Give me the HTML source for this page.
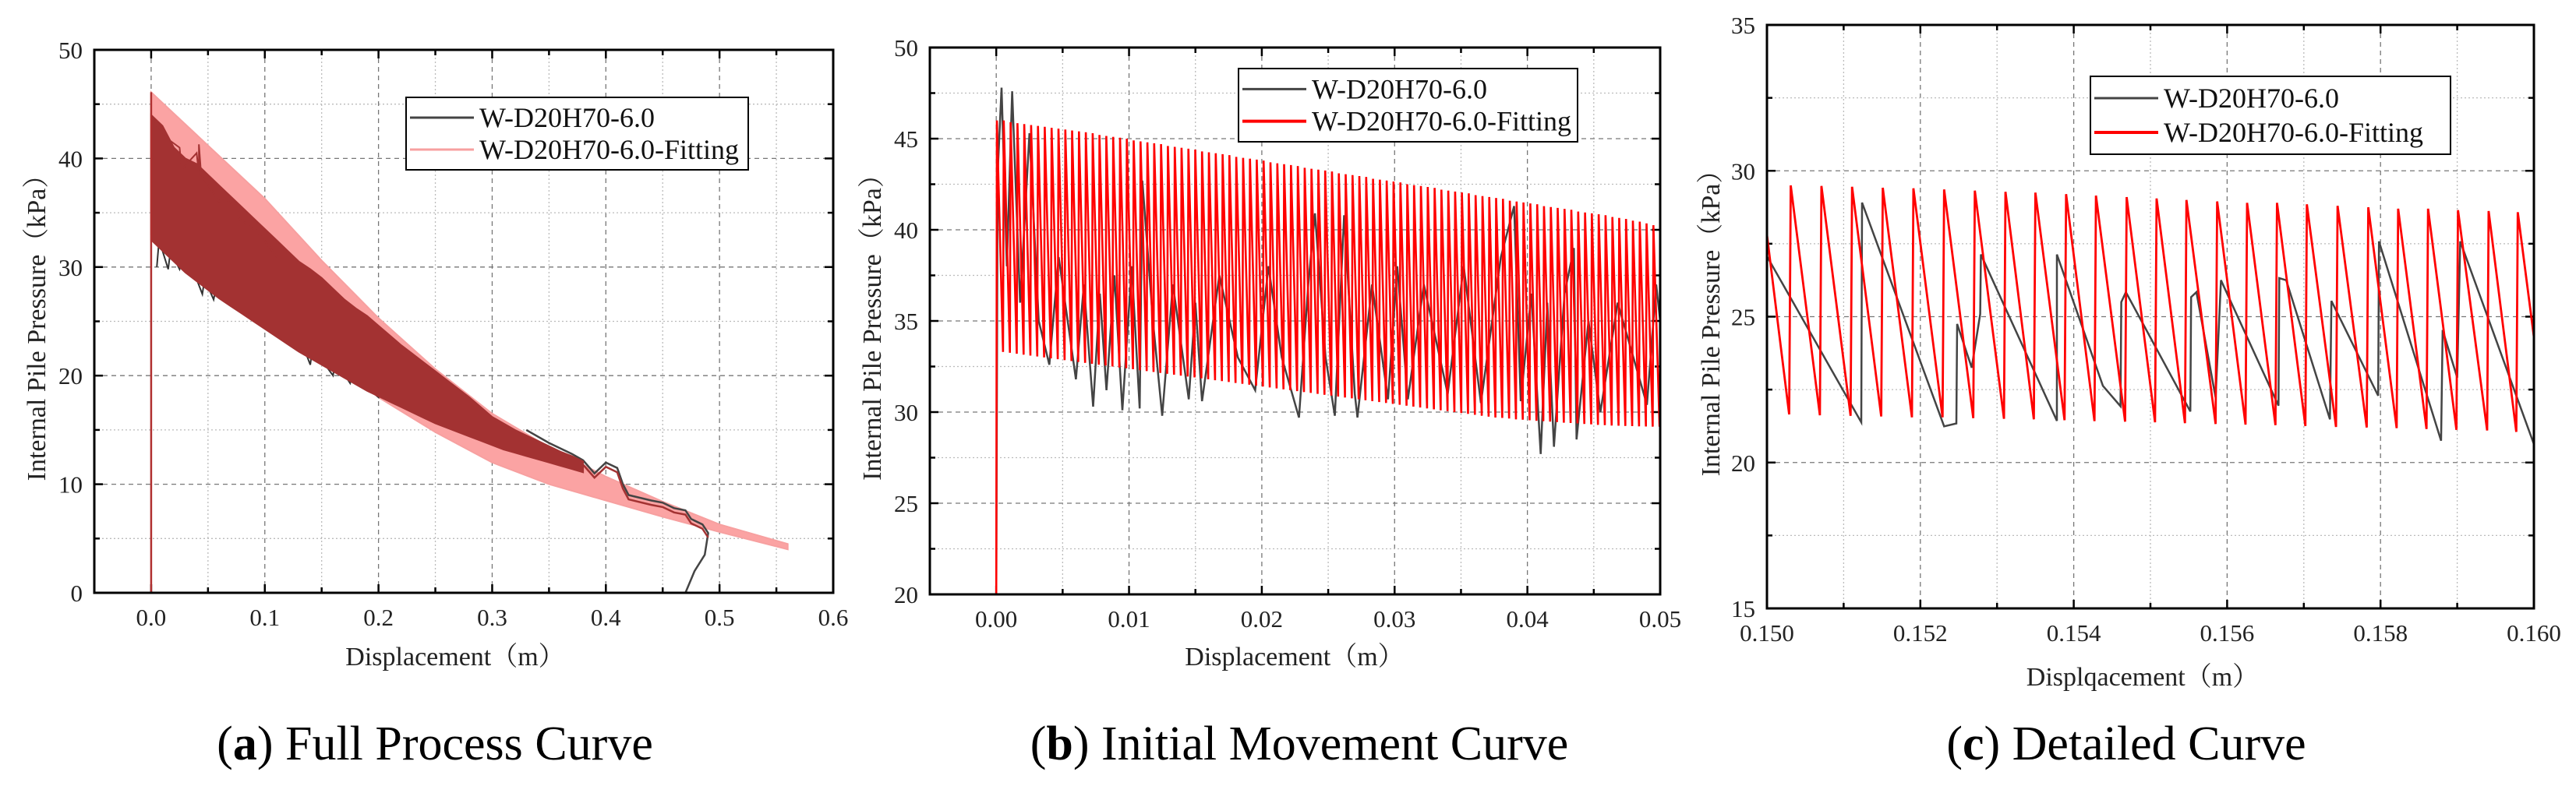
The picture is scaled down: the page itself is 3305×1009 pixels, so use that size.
<!DOCTYPE html>
<html><head><meta charset="utf-8"><style>
html,body{margin:0;padding:0;background:#fff;}
svg{display:block;font-family:"Liberation Serif","Noto Serif CJK SC",serif;}
</style></head><body>
<svg id="fig" width="3305" height="1009" viewBox="0 0 3305 1009" xmlns="http://www.w3.org/2000/svg">
<rect width="3305" height="1009" fill="#fff"/>
<text x="558" y="975" font-size="62" text-anchor="middle">(<tspan font-weight="bold">a</tspan>) Full Process Curve</text>
<text x="1667" y="975" font-size="62" text-anchor="middle">(<tspan font-weight="bold">b</tspan>) Initial Movement Curve</text>
<text x="2728" y="975" font-size="62" text-anchor="middle">(<tspan font-weight="bold">c</tspan>) Detailed Curve</text>
</svg>
<script>
// ---- Panel (a) data ----
const aFitX = [0.0, 0.05, 0.1, 0.15, 0.2, 0.25, 0.3, 0.35, 0.4, 0.45, 0.5, 0.56];
const aFitUpper = [46.1, 41.2, 36.3, 30.6, 25.3, 20.6, 16.5, 13.4, 10.7, 8.4, 6.3, 4.5];
const aFitLower = [33.0, 29.5, 26.4, 22.0, 18.0, 14.8, 12.0, 10.0, 8.5, 7.0, 5.6, 4.0];
const aMeasX = [0,0.01,0.02,0.03,0.04,0.05,0.06,0.07,0.08,0.09,0.1,0.11,0.12,0.13,0.14,0.15,0.16,0.17,0.18,0.19,0.2,0.21,0.22,0.23,0.24,0.25,0.26,0.27,0.28,0.29,0.3,0.31,0.32,0.33,0.34,0.35,0.36,0.37,0.38];
const aMeasHi = [44,43,41,40,39.5,38.5,37.5,36.5,35.5,34.5,33.5,32.5,31.5,30.5,29.8,29,28,27,26.2,25.5,24.6,23.7,22.8,22,21.2,20.4,19.6,18.8,18,17.1,16.2,15.6,15.0,14.5,14.0,13.5,13.0,12.6,12.1];
const aMeasLo = [32.5,31.5,30.5,29.5,28.7,27.9,27.1,26.4,25.7,25,24.3,23.6,22.9,22.2,21.6,21,20.4,19.8,19.2,18.6,18.1,17.6,17.1,16.6,16.1,15.6,15.2,14.8,14.4,14,13.6,13.2,12.9,12.6,12.3,12,11.7,11.4,11.1];
const aSpikeX = [0.003,0.01,0.025,0.04,0.042,0.06,0.075,0.09,0.11];
const aSpikeY = [43.5,42.5,41,40.5,41.3,36,35.5,33.5,31];
const aDipX = [0.005,0.015,0.025,0.035,0.045,0.055,0.13,0.14,0.16,0.175,0.2];
const aDipY = [30,29.8,29.8,29.6,27.5,27,22.5,21,20,19.3,18];
const aTailX = [0.33,0.35,0.37,0.38,0.39,0.40,0.41,0.415,0.42,0.44,0.45,0.46,0.47,0.475,0.485,0.49,0.487,0.478,0.47];
const aTailY = [15,13.8,12.8,12.2,11,12,11.5,10,9,8.5,8.3,7.8,7.6,6.8,6.3,5.5,3.5,2,0];
// ---- Panel (b) data ----
const bPeriod = 0.000515;
const bPeaks = [46.0,46.0,45.9,45.85,45.8,45.75,45.7,45.65,45.6,45.55,
45.5,45.45,45.4,45.35,45.3,45.2,45.15,45.1,45.05,45.0,
44.9,44.85,44.8,44.75,44.7,44.6,44.55,44.5,44.45,44.4,
44.3,44.25,44.2,44.15,44.1,44.0,43.95,43.9,43.85,43.8,
43.7,43.65,43.6,43.55,43.5,43.4,43.35,43.3,43.25,43.2,
43.1,43.05,43.0,42.95,42.9,42.8,42.75,42.7,42.65,42.6,
42.5,42.45,42.4,42.35,42.3,42.2,42.15,42.1,42.05,42.0,
41.9,41.85,41.8,41.75,41.7,41.6,41.55,41.5,41.45,41.4,
41.3,41.25,41.2,41.15,41.1,41.0,40.95,40.9,40.85,40.8,
40.7,40.65,40.6,40.5,40.45,40.35,40.25];
const bTroughs = [33.3,33.25,33.2,33.15,33.1,33.05,33.0,32.95,32.9,32.85,
32.8,32.75,32.7,32.65,32.6,32.55,32.5,32.45,32.4,32.35,
32.3,32.25,32.2,32.15,32.1,32.05,32.0,31.95,31.9,31.85,
31.8,31.75,31.7,31.65,31.6,31.55,31.5,31.45,31.4,31.35,
31.3,31.25,31.2,31.15,31.1,31.05,31.0,30.95,30.9,30.85,
30.8,30.75,30.7,30.65,30.6,30.55,30.5,30.45,30.4,30.35,
30.3,30.25,30.2,30.15,30.1,30.05,30.0,29.95,29.9,29.85,
29.8,29.75,29.7,29.68,29.65,29.6,29.58,29.55,29.52,29.5,
29.48,29.45,29.42,29.4,29.38,29.35,29.33,29.3,29.28,29.26,
29.25,29.24,29.23,29.22,29.21,29.2,29.2];
const bMeasX = [0,0.0001,0.0004,0.0008,0.0012,0.0018,0.0025,0.0032,0.004,0.0047,0.006,0.0066,0.0073,0.0078,0.0083,0.0089,0.0095,0.0102,0.0108,0.011,0.0118,0.0125,0.0133,0.0145,0.015,0.0155,0.0168,0.0182,0.0195,0.0205,0.0215,0.0228,0.0235,0.024,0.0248,0.0255,0.0262,0.027,0.0272,0.0283,0.0295,0.0302,0.031,0.0322,0.034,0.0352,0.0365,0.038,0.039,0.0395,0.0403,0.041,0.0415,0.042,0.0428,0.0435,0.0437,0.0446,0.0455,0.0468,0.049,0.0497,0.05];
const bMeasY = [20,43,47.8,38,47.6,36,45.3,35,32.6,38.5,31.8,37,30.3,36.5,31.2,37.5,30.1,38,30.2,42.7,35,29.8,37,30.7,36,30.6,37.5,33,31.2,38,33,29.7,37,40.9,33,29.8,40.8,31,29.7,37,30.7,38,30.7,37,31.0,38,30.5,38.5,41.3,30.6,36.5,27.7,36,28.1,36.5,39.0,28.5,35,30.0,36,30.4,37,35];
// ---- Panel (c) data ----
const cPeakX = [0.15031,0.15071,0.15111,0.15151,0.15191,0.15231,0.15271,0.15311,0.15350,0.15390,0.15429,0.15469,0.15508,0.15547,0.15587,0.15626,0.15665,0.15704,0.15744,0.15784,0.15823,0.15862,0.15901,0.15941,0.15979];
const cPeaks = [29.5,29.48,29.45,29.42,29.4,29.36,29.32,29.28,29.25,29.2,29.15,29.1,29.05,29.0,28.95,28.9,28.9,28.85,28.8,28.75,28.7,28.7,28.65,28.62,28.58];
const cTroughs = [21.65,21.62,21.6,21.58,21.55,21.55,21.52,21.5,21.48,21.45,21.42,21.4,21.38,21.35,21.32,21.3,21.28,21.25,21.22,21.2,21.18,21.15,21.12,21.1,21.05];
const cFitStart = 27.8, cFitEnd = 24.3;
const cMeasX = [0.15000,0.15123,0.15124,0.15231,0.15247,0.15248,0.15267,0.15278,0.15279,0.15378,0.15378,0.15438,0.15461,0.15462,0.15468,0.15552,0.15553,0.15560,0.15585,0.15592,0.15667,0.15668,0.15677,0.15734,0.15736,0.15797,0.15798,0.15879,0.15881,0.15900,0.15904,0.16000];
const cMeasY = [27.07,21.38,28.91,21.24,21.34,24.75,23.25,25.09,27.13,21.43,27.13,22.63,21.93,25.50,25.84,21.75,25.67,25.84,22.23,26.25,21.95,26.32,26.25,21.48,25.54,22.29,27.58,20.75,24.54,22.91,27.58,20.63];

const NS = "http://www.w3.org/2000/svg";
const svg = document.getElementById('fig');
function mk(tag, attrs, parent){
  const e = document.createElementNS(NS, tag);
  for (const k in attrs) e.setAttribute(k, attrs[k]);
  (parent||svg).appendChild(e);
  return e;
}
function panel(p){
  const g = mk('g', {});
  
  
  const sx = v => p.L + (v - p.x0) / (p.x1 - p.x0) * (p.R - p.L);
  const sy = v => p.B - (v - p.y0) / (p.y1 - p.y0) * (p.B - p.T);
  p.sx = sx; p.sy = sy; p.g = g;
  const grid = mk('g', {}, g);
  
  
  const eps = 1e-9;
  for (let i = 0; ; i++){
    const v = p.xMinStart + i * p.xMinor; if (v > p.x1 + eps) break;
    const x = sx(v); const isMaj = Math.abs(Math.round((v - p.xMajStart) / p.xMajor) * p.xMajor + p.xMajStart - v) < eps*10;
    if (x > p.L + 2 && x < p.R - 2) mk('line', {x1:x, y1:p.T, x2:x, y2:p.B, stroke: isMaj ? '#777' : '#bbb', 'stroke-width':1.3, 'stroke-dasharray': isMaj ? '6,5' : '2,3'}, grid);
    const tl = isMaj ? 11 : 7;
    mk('line', {x1:x, y1:p.B, x2:x, y2:p.B - tl, stroke:'#000', 'stroke-width':2.5}, g);
    mk('line', {x1:x, y1:p.T, x2:x, y2:p.T + tl, stroke:'#000', 'stroke-width':2.5}, g);
  }
  for (let i = 0; ; i++){
    const v = p.y0 + i * p.yMinor; if (v > p.y1 + eps) break;
    const y = sy(v); const isMaj = Math.abs(Math.round((v - p.y0) / p.yMajor) * p.yMajor + p.y0 - v) < eps*10;
    if (y > p.T + 2 && y < p.B - 2) mk('line', {x1:p.L, y1:y, x2:p.R, y2:y, stroke: isMaj ? '#777' : '#bbb', 'stroke-width':1.3, 'stroke-dasharray': isMaj ? '6,5' : '2,3'}, grid);
    const tl = isMaj ? 11 : 7;
    mk('line', {x1:p.L, y1:y, x2:p.L + tl, y2:y, stroke:'#000', 'stroke-width':2.5}, g);
    mk('line', {x1:p.R, y1:y, x2:p.R - tl, y2:y, stroke:'#000', 'stroke-width':2.5}, g);
  }
  p.xLabels.forEach((t, i) => {
    const v = p.xMajStart + i * p.xMajor;
    const e = mk('text', {x:sx(v), y:p.B + 42, 'font-size':31, 'text-anchor':'middle', fill:'#222'}, g);
    
    
    e.textContent = t;
  });
  p.yLabels.forEach((t, i) => {
    const v = p.y0 + i * p.yMajor;
    const e = mk('text', {x:p.L - 15, y:sy(v) + 11, 'font-size':31, 'text-anchor':'end', fill:'#222'}, g);
    
    
    e.textContent = t;
  });
  const xt = mk('text', {x:p.xtX, y:p.xtY, 'font-size':34, 'text-anchor':'middle', fill:'#222'}, g);
  
  
  xt.textContent = p.xTitle;
  const yt = mk('text', {x:0, y:0, 'font-size':34, 'text-anchor':'middle', fill:'#222', transform:`translate(${p.ytX},${(p.T+p.B)/2}) rotate(-90)`}, g);
  
  
  yt.textContent = 'Internal Pile Pressure（kPa）';
  const clip = mk('clipPath', {id:'clip-' + p.name}, g);
  mk('rect', {x:p.L, y:p.T, width:p.R - p.L, height:p.B - p.T}, clip);
  const plot = mk('g', {'clip-path':`url(#clip-${p.name})`}, g);
  
  
  p.plot = plot;
  return p;
}
function axesFrame(p){
  const f = mk('rect', {x:p.L, y:p.T, width:p.R - p.L, height:p.B - p.T, fill:'none', stroke:'#000', 'stroke-width':3}, p.g);
  
  
}
function legend(p, box, fitColor, fitWidth){
  const g = mk('g', {}, p.g);
  
  
  mk('rect', {x:box.x, y:box.y, width:box.w, height:box.h, fill:'#fff', stroke:'#000', 'stroke-width':2}, g);
  const r1 = box.y + box.h * 0.28, r2 = box.y + box.h * 0.72;
  const e1 = mk('g', {}, g);
  
  
  mk('line', {x1:box.x + 5, y1:r1, x2:box.x + 87, y2:r1, stroke:'#444', 'stroke-width':3}, e1);
  const t1 = mk('text', {x:box.x + 94, y:r1 + 12, 'font-size':36, fill:'#111'}, e1);
  t1.textContent = 'W-D20H70-6.0';
  const e2 = mk('g', {}, g);
  
  
  mk('line', {x1:box.x + 5, y1:r2, x2:box.x + 87, y2:r2, stroke:fitColor, 'stroke-width':fitWidth}, e2);
  const t2 = mk('text', {x:box.x + 94, y:r2 + 12, 'font-size':36, fill:'#111'}, e2);
  t2.textContent = 'W-D20H70-6.0-Fitting';
}
function pts(p, xs, ys){ return xs.map((x, i) => p.sx(x).toFixed(1) + ',' + p.sy(ys[i]).toFixed(1)).join(' '); }

// ---------- Panel A ----------
const A = panel({name:'panel-a-full-process', L:121, R:1069, T:64, B:761, x0:-0.05, x1:0.6, y0:0, y1:50,
  xMajor:0.1, xMajStart:0, xMinor:0.05, xMinStart:-0.05, yMajor:10, yMinor:5,
  xLabels:['0.0','0.1','0.2','0.3','0.4','0.5','0.6'], yLabels:['0','10','20','30','40','50'],
  xTitle:'Displacement（m）', xtX:584, xtY:854, ytX:58});
{
  const band = mk('polygon', {points: pts(A, aFitX, aFitUpper) + ' ' + pts(A, aFitX.slice().reverse(), aFitLower.slice().reverse()), fill:'#fba3a3', stroke:'#f7a0a0', 'stroke-width':2}, A.plot);
  
  
  const dips = mk('polyline', {points: pts(A, aDipX.flatMap(x=>[x,x+0.002]), aDipY.flatMap((y,i)=>[y, aMeasLo[Math.round(aDipX[i]*100)]+1])), fill:'none', stroke:'#333', 'stroke-width':2}, A.plot);
  
  
  const tail = mk('polyline', {points: pts(A, aTailX, aTailY), fill:'none', stroke:'#444', 'stroke-width':2.5}, A.plot);
  
  
  const tail2 = mk('polyline', {points: pts(A, aTailX.slice(3,16), aTailY.slice(3,16).map(v=>v-0.4)), fill:'none', stroke:'#a33232', 'stroke-width':2.5}, A.plot);
  
  
  const meas = mk('polygon', {points: pts(A, aMeasX, aMeasHi) + ' ' + pts(A, aMeasX.slice().reverse(), aMeasLo.slice().reverse()), fill:'#a33232', stroke:'#a33232', 'stroke-width':2}, A.plot);
  
  
  const sp = mk('polyline', {points: pts(A, aSpikeX.flatMap(x=>[x,x+0.002]), aSpikeY.flatMap((y,i)=>[y, aMeasHi[Math.round(aSpikeX[i]*100)]-1])), fill:'none', stroke:'#a33232', 'stroke-width':2}, A.plot);
  
  
  const vl = mk('line', {x1:A.sx(0), y1:A.sy(0), x2:A.sx(0), y2:A.sy(aFitUpper[0]), stroke:'#b03030', 'stroke-width':2.5}, A.plot);
  
  
  axesFrame(A);
  legend(A, {x:521, y:125, w:439, h:93}, '#f7a0a0', 3);
}

// ---------- Panel B ----------
const Bp = panel({name:'panel-b-initial-movement', L:1193, R:2130, T:61, B:763, x0:-0.005, x1:0.05, y0:20, y1:50,
  xMajor:0.01, xMajStart:0, xMinor:0.005, xMinStart:-0.005, yMajor:5, yMinor:2.5,
  xLabels:['0.00','0.01','0.02','0.03','0.04','0.05'], yLabels:['20','25','30','35','40','45','50'],
  xTitle:'Displacement（m）', xtX:1661, xtY:854, ytX:1130});
{
  const m = mk('polyline', {points: pts(Bp, bMeasX, bMeasY), fill:'none', stroke:'#444', 'stroke-width':2.5}, Bp.plot);
  
  
  const fx = [0, 0.00005], fy = [20, bPeaks[0]];
  bPeaks.forEach((pk, i) => {
    const x = 0.00005 + i * bPeriod;
    fx.push(x, x + bPeriod * 0.9); fy.push(pk, bTroughs[i]);
  });
  const f = mk('polyline', {points: pts(Bp, fx, fy), fill:'none', stroke:'#ff0000', 'stroke-width':2.6}, Bp.plot);
  
  
  axesFrame(Bp);
  legend(Bp, {x:1589, y:88, w:435, h:94}, '#ff0000', 4);
}

// ---------- Panel C ----------
const C = panel({name:'panel-c-detailed', L:2267, R:3251, T:32, B:781, x0:0.15, x1:0.16, y0:15, y1:35,
  xMajor:0.002, xMajStart:0.15, xMinor:0.001, xMinStart:0.15, yMajor:5, yMinor:2.5,
  xLabels:['0.150','0.152','0.154','0.156','0.158','0.160'], yLabels:['15','20','25','30','35'],
  xTitle:'Displqacement（m）', xtX:2749, xtY:880, ytX:2206});
{
  const m = mk('polyline', {points: pts(C, cMeasX, cMeasY), fill:'none', stroke:'#444', 'stroke-width':2.5}, C.plot);
  
  
  const fx = [0.15], fy = [cFitStart];
  cPeakX.forEach((x, i) => { fx.push(x - 0.00002, x); fy.push(cTroughs[i], cPeaks[i]); });
  fx.push(0.16); fy.push(cFitEnd);
  const f = mk('polyline', {points: pts(C, fx, fy), fill:'none', stroke:'#ff0000', 'stroke-width':2.8}, C.plot);
  
  
  axesFrame(C);
  legend(C, {x:2682, y:98, w:462, h:100}, '#ff0000', 4);
}
</script>
</body></html>
